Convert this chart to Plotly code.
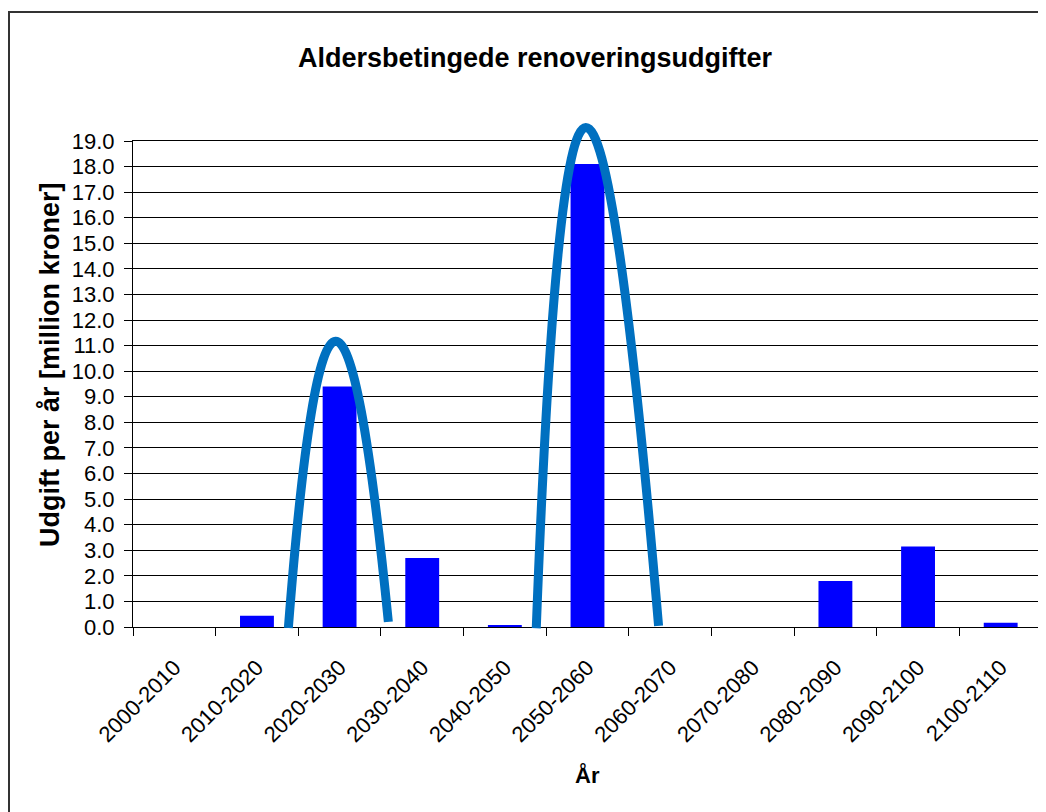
import plotly.graph_objects as go

categories = ["2000-2010", "2010-2020", "2020-2030", "2030-2040", "2040-2050",
              "2050-2060", "2060-2070", "2070-2080", "2080-2090", "2090-2100", "2100-2110"]
values = [0.0, 0.44, 9.4, 2.7, 0.05, 18.1, 0.0, 0.0, 1.8, 3.15, 0.17]

y_ticks = list(range(0, 20))
y_max = 19

# hand-drawn highlight arcs (x in category index, y in data units)
arc_start = [(1.38, -0.04), (4.38, -0.05)]
arc_peak = [(1.95, 11.17), (4.98, 19.53)]
arc_end = [(2.59, 0.20), (5.86, 0.04)]

title_text = "Aldersbetingede renoveringsudgifter"
x_title = "År"
y_title = "Udgift per år [million kroner]"

FONT = "Liberation Sans, Arial, sans-serif"

fig = go.Figure()
fig.add_trace(go.Bar(x=categories, y=values, marker=dict(color="#0000FF", line=dict(width=0)),
                     showlegend=False))

shapes = []
for (s, p, e) in zip(arc_start, arc_peak, arc_end):
    cx = 2 * p[0] - (s[0] + e[0]) / 2
    cy = 2 * p[1] - (s[1] + e[1]) / 2
    path = "M {:.4f},{:.4f} Q {:.4f},{:.4f} {:.4f},{:.4f}".format(
        s[0], s[1] / y_max, cx, cy / y_max, e[0], e[1] / y_max)
    shapes.append(dict(type="path", path=path, xref="x", yref="y domain",
                       line=dict(color="#0070C0", width=9), layer="above"))

# figure geometry (figure pixels)
FW, FH = 1038, 804
L, R, T, Bm = 125, 4, 133, 185
W, H = FW - L - R, FH - T - Bm
B = T + H

# outer chart frame
shapes.append(dict(type="rect", xref="paper", yref="paper",
                   x0=(1 - L) / W, x1=(FW + 20 - L) / W,
                   y0=(B - FH - 20) / H, y1=(B - 4) / H,
                   line=dict(color="#333333", width=2), fillcolor="rgba(0,0,0,0)", layer="below"))

fig.update_layout(
    width=FW, height=FH,
    margin=dict(l=L, r=R, t=T, b=Bm),
    paper_bgcolor="white", plot_bgcolor="white",
    bargap=0.59,
    font=dict(family=FONT, color="black"),
    title=dict(text=title_text, x=527 / FW, xanchor="center", y=1 - 50 / FH, yanchor="middle",
               font=dict(size=27, family=FONT, color="black", weight="bold")),
    shapes=shapes,
    annotations=[
        dict(text=y_title, xref="paper", yref="paper", x=(42 - L) / W, y=(B - 357) / H,
             showarrow=False, textangle=-90, xanchor="center", yanchor="middle",
             font=dict(size=27, family=FONT, color="black", weight="bold")),
        dict(text=x_title, xref="paper", yref="paper", x=0.5, y=(B - 767) / H,
             showarrow=False, xanchor="center", yanchor="middle",
             font=dict(size=22, family=FONT, color="black", weight="bold")),
    ],
)
fig.update_xaxes(type="category", tickangle=-45, tickson="boundaries",
                 ticks="outside", ticklen=8, tickcolor="black", tickwidth=1,
                 showline=True, linecolor="black", linewidth=1, mirror=True,
                 showgrid=False, tickfont=dict(size=22, family=FONT, color="black"),
                 ticklabelstandoff=18)
fig.update_yaxes(range=[0, y_max], tickvals=y_ticks, tickformat=".1f",
                 ticks="outside", ticklen=8, tickcolor="black", tickwidth=1,
                 showline=True, linecolor="black", linewidth=1, mirror=True,
                 showgrid=True, gridcolor="black", gridwidth=1, zeroline=False,
                 tickfont=dict(size=22, family=FONT, color="black"),
                 ticklabelstandoff=5)

fig.write_html("out.html")
